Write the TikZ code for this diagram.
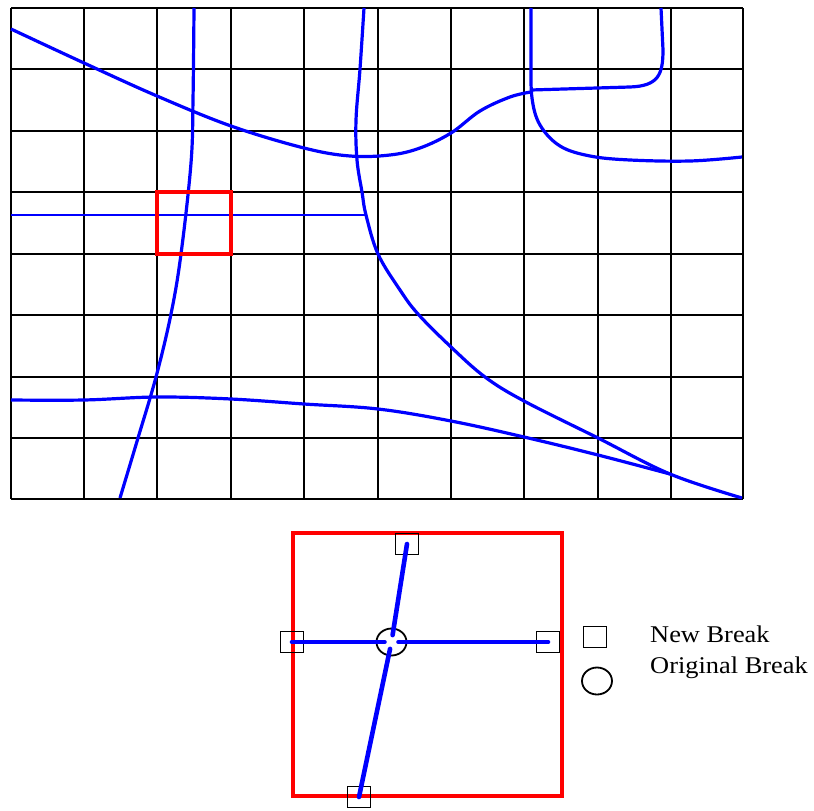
\documentclass[tikz,border=0pt]{standalone}
\usepackage{fontspec}
\newfontfamily\legendfont[FakeStretch=1.1]{Liberation Serif}
\tikzset{
	gridthin/.style={line width=1.6pt, black},
	gridthick/.style={line width=2.8pt, black},
	road/.style={line width=3.2pt, blue},
	breakbox/.style={draw, line width=1.8pt, minimum width=23pt, minimum height=21pt, inner sep=0pt},
	breakring/.style={draw, ellipse, line width=1.8pt, minimum width=30pt, minimum height=27pt, inner sep=0pt},
	seg/.style={line width=4.6pt, blue, line cap=round, shorten >=7pt},
	legendtext/.style={anchor=base west, inner sep=0pt, font=\legendfont\fontsize{24}{28}\selectfont}
}
\usetikzlibrary{shapes.geometric}
\begin{document}
\begin{tikzpicture}[x=1pt, y=-1pt]
	\useasboundingbox (0,0) rectangle (814,811);
	\foreach \gx in {11,84,157,231,304}
		\draw [gridthin] (\gx,8) -- (\gx,499);
	\foreach \gx in {378,451,524,598,671,743}
		\draw [gridthick] (\gx,8) -- (\gx,499);
	\foreach \gy in {8,69,131,192,254,315,377,438,499}
		\draw [gridthin] (11,\gy) -- (743,\gy);
	
	\draw [road] plot [smooth, tension=0.6] coordinates {(11,29) (84,63) (157,96) (231,126) (304,148) (350,156) (390,155) (420,148) (451,133) (480,111) (510,97) (531,92)};
	\draw [road] (531,90) -- (630,87) .. controls (658,86) and (663,75) .. (663,50) -- (661,8);
	\draw [road] plot [smooth, tension=0.6] coordinates {(531,8) (531,60) (532,98) (540,125) (560,146) (590,156) (630,160) (690,161) (742,157)};
	\draw [road] plot [smooth, tension=0.6] coordinates {(194,8) (193,100) (191,163) (181,254) (171,314) (156,377) (138,438) (120,498)};
	\draw [road, line width=2.2pt] (11,215) -- (366,215);
	\draw [road] plot [smooth, tension=0.6] coordinates {(364,8) (360,69) (356,120) (357,160) (362,192) (366,215) (378,254) (400,290) (418,314) (451,347) (485,377) (524,401) (598,438) (670,474) (742,498)};
	\draw [road] plot [smooth, tension=0.6] coordinates {(11,400) (84,400) (157,397) (231,399) (304,404) (378,409) (451,421) (524,437) (598,455) (670,474)};
	\draw [red, line width=4.5pt] (157,192) rectangle (231,254);
	
	\draw [red, line width=3.5pt] (293,533) rectangle (562,796);
	\node [breakring] (ob) at (391.5,642) {};
	\node [breakbox] (nbtop) at (407,544) {};
	\node [breakbox] (nbleft) at (292,642) {};
	\node [breakbox] (nbright) at (548,642) {};
	\node [breakbox] (nbbottom) at (359,797) {};
	\draw [seg] (nbtop.center) -- (ob.center);
	\draw [seg] (nbleft.center) -- (ob.center);
	\draw [seg] (nbright.center) -- (ob.center);
	\draw [seg] (nbbottom.center) -- (ob.center);
	
	\node [breakbox] (keybox) at (595,637) {};
	\node [breakring] (keyring) at (597,681) {};
	\node [legendtext] (keynew) at (650,642) {New Break};
	\node [legendtext] (keyorig) at (650,673) {Original Break};
\end{tikzpicture}
\end{document}
